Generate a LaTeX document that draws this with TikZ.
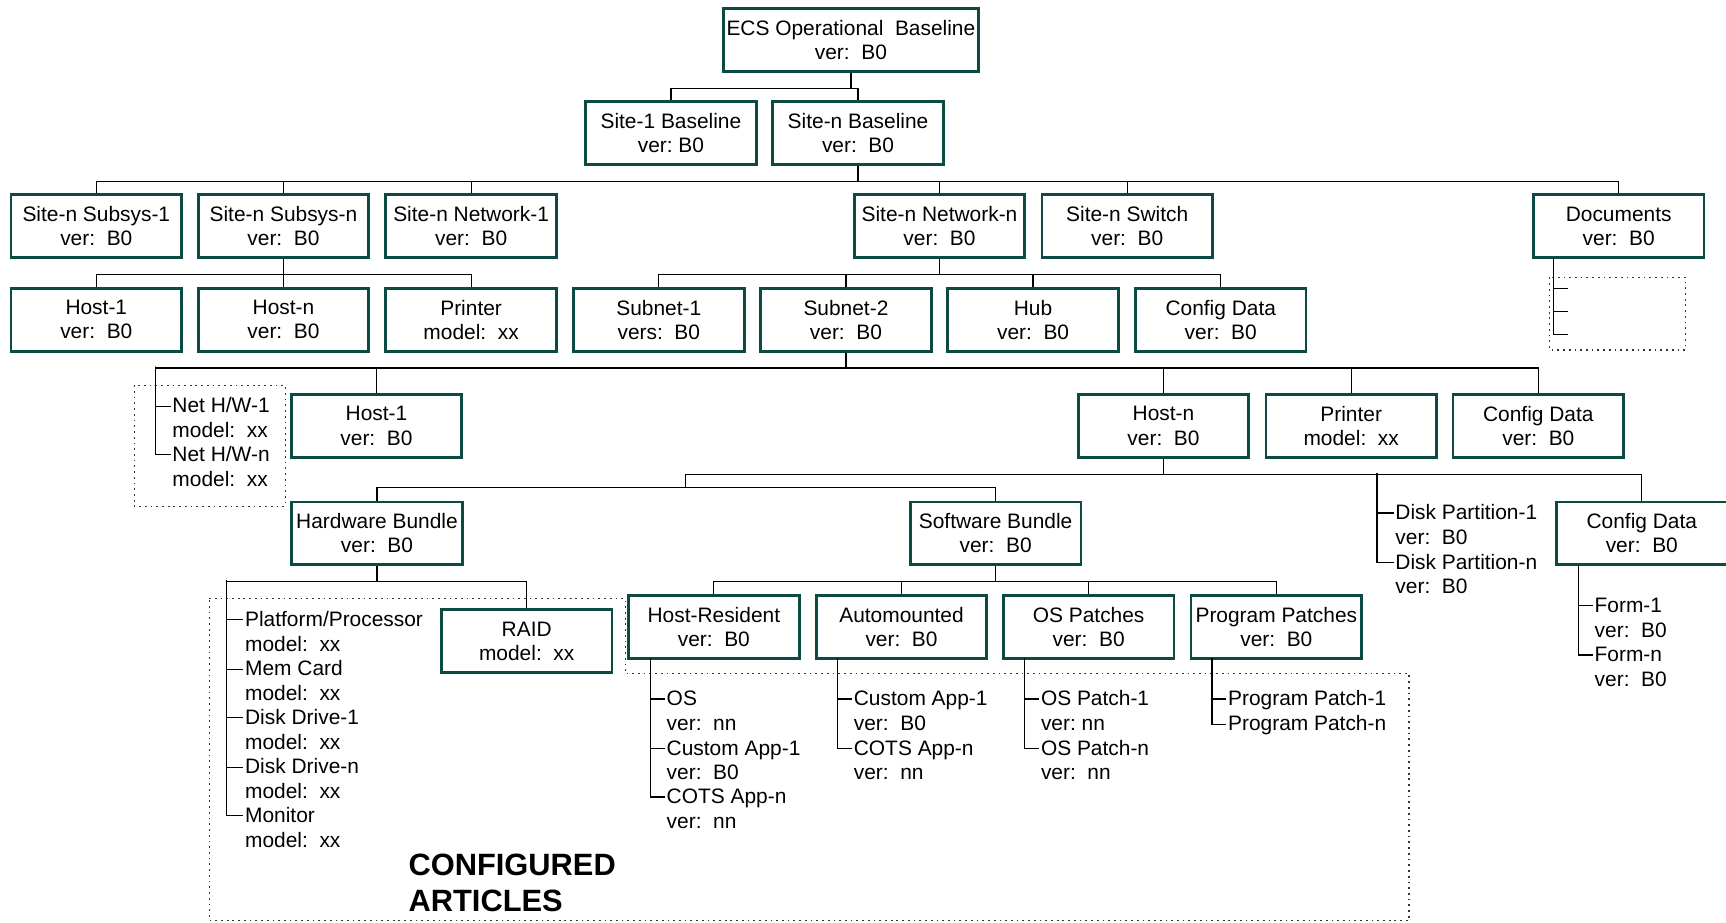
\documentclass[tikz,border=0pt]{standalone}
\usepackage{fontspec}
\setmainfont{Liberation Sans}
\definecolor{boxteal}{RGB}{12,74,68}
\frenchspacing
\begin{document}
\begin{tikzpicture}[x=1pt,y=-1pt,
  box/.style={draw=boxteal, line width=2.5pt, fill=white, minimum width=155pt,
    minimum height=57pt, inner sep=0pt, align=center,
    font=\fontsize{19}{22}\selectfont},
  link/.style={line width=1.1pt, draw=black},
  item/.style={anchor=west, inner sep=1.5pt, text height=14pt, text depth=2pt,
    font=\fontsize{19}{22}\selectfont},
  fence/.style={draw=black!80, line width=1pt, dash pattern=on 1.6pt off 3.6pt},
  bigword/.style={anchor=base west, inner sep=0pt, font=\bfseries\fontsize{28}{33}\selectfont}]
\useasboundingbox (0,0) rectangle (1568,838);

% dotted groupings
\draw[fence] (122,350) rectangle (259,460);
\draw[fence] (1408,252) rectangle (1531,318);
\draw[fence] (190,544) -- (568,544) -- (568,612) -- (1280,612) -- (1280,836) -- (190,836) -- cycle;

% top levels
\node[box, minimum width=232pt] (ecs) at (773,36.5) {ECS Operational\ \ Baseline\\ver:\ \ B0};
\node[box] (site1) at (609.5,121) {Site-1 Baseline\\ver: B0};
\node[box] (siten) at (779.5,121) {Site-n Baseline\\ver:\ \ B0};

% site-n components
\node[box] (ss1) at (87.5,205.5) {Site-n Subsys-1\\ver:\ \ B0};
\node[box] (ssn) at (257.5,205.5) {Site-n Subsys-n\\ver:\ \ B0};
\node[box] (net1) at (428,205.5) {Site-n Network-1\\ver:\ \ B0};
\node[box] (netn) at (853.5,205.5) {Site-n Network-n\\ver:\ \ B0};
\node[box] (switch) at (1024,205.5) {Site-n Switch\\ver:\ \ B0};
\node[box] (docs) at (1470.5,205.5) {Documents\\ver:\ \ B0};

% subsystem and network children
\node[box] (h1a) at (87.5,290.5) {Host-1\\ver:\ \ B0};
\node[box] (hna) at (257.5,290.5) {Host-n\\ver:\ \ B0};
\node[box] (pra) at (428,290.5) {Printer\\model:\ \ xx};
\node[box] (sub1) at (598.5,290.5) {Subnet-1\\vers:\ \ B0};
\node[box] (sub2) at (768.5,290.5) {Subnet-2\\ver:\ \ B0};
\node[box] (hub) at (938.5,290.5) {Hub\\ver:\ \ B0};
\node[box] (cfga) at (1109,290.5) {Config Data\\ver:\ \ B0};

% subnet children
\node[box] (h1b) at (342,387) {Host-1\\ver:\ \ B0};
\node[box] (hnb) at (1057,387) {Host-n\\ver:\ \ B0};
\node[box] (prb) at (1227.5,387) {Printer\\model:\ \ xx};
\node[box] (cfgb) at (1397.5,387) {Config Data\\ver:\ \ B0};

% host children
\node[box] (hwb) at (342.5,484.5) {Hardware Bundle\\ver:\ \ B0};
\node[box] (swb) at (904.5,484.5) {Software Bundle\\ver:\ \ B0};
\node[box] (cfgc) at (1491.5,484.5) {Config Data\\ver:\ \ B0};
\node[box] (raid) at (478.5,582.5) {RAID\\model:\ \ xx};

% software bundle children
\node[box] (hres) at (648.5,569.5) {Host-Resident\\ver:\ \ B0};
\node[box] (auto) at (819,569.5) {Automounted\\ver:\ \ B0};
\node[box] (ospat) at (989,569.5) {OS Patches\\ver:\ \ B0};
\node[box] (prpat) at (1159.5,569.5) {Program Patches\\ver:\ \ B0};

% list spines
\coordinate (docspine) at (1411,234);
\coordinate (nhwtop) at (141,333);
\coordinate (dpspine) at (1251,430);
\coordinate (bundlesplit) at (623,443);
\coordinate (hwspine) at (206,527);
\coordinate (formspine) at (1434,513);
\coordinate (hrspine) at (591,598);
\coordinate (amspine) at (761,598);
\coordinate (opspine) at (931,598);
\coordinate (ppspine) at (1101,598);
\coordinate (d1) at (1424,262);
\coordinate (d2) at (1424,283);
\coordinate (d3) at (1424,304);

% list items
\node[item] (nhw1) at (155,369) {Net H/W-1};
\node[item] (nhw1m) at (155,391) {model:\ \ xx};
\node[item] (nhwn) at (155,413) {Net H/W-n};
\node[item] (nhwnm) at (155,436) {model:\ \ xx};

\node[item] (pp) at (221,563) {Platform/Processor};
\node[item] (ppm) at (221,586) {model:\ \ xx};
\node[item] (mem) at (221,608) {Mem Card};
\node[item] (memm) at (221,630) {model:\ \ xx};
\node[item] (dd1) at (221,652) {Disk Drive-1};
\node[item] (dd1m) at (221,675) {model:\ \ xx};
\node[item] (ddn) at (221,697) {Disk Drive-n};
\node[item] (ddnm) at (221,719) {model:\ \ xx};
\node[item] (mon) at (221,741) {Monitor};
\node[item] (monm) at (221,764) {model:\ \ xx};

\node[item] (dp1) at (1266,466) {Disk Partition-1};
\node[item] (dp1v) at (1266,489) {ver:\ \ B0};
\node[item] (dpn) at (1266,511) {Disk Partition-n};
\node[item] (dpnv) at (1266,533) {ver:\ \ B0};

\node[item] (f1) at (1447,550) {Form-1};
\node[item] (f1v) at (1447,573) {ver:\ \ B0};
\node[item] (fn) at (1447,595) {Form-n};
\node[item] (fnv) at (1447,618) {ver:\ \ B0};

\node[item] (os) at (604,635) {OS};
\node[item] (osv) at (604,658) {ver:\ \ nn};
\node[item] (ca1) at (604,680) {Custom App-1};
\node[item] (ca1v) at (604,702) {ver:\ \ B0};
\node[item] (cots) at (604,724) {COTS App-n};
\node[item] (cotsv) at (604,747) {ver:\ \ nn};

\node[item] (aca) at (774,635) {Custom App-1};
\node[item] (acav) at (774,658) {ver:\ \ B0};
\node[item] (acots) at (774,680) {COTS App-n};
\node[item] (acotsv) at (774,702) {ver:\ \ nn};

\node[item] (op1) at (944,635) {OS Patch-1};
\node[item] (op1v) at (944,658) {ver: nn};
\node[item] (opn) at (944,680) {OS Patch-n};
\node[item] (opnv) at (944,702) {ver:\ \ nn};

\node[item] (pp1) at (1114,635) {Program Patch-1};
\node[item] (ppn) at (1114,658) {Program Patch-n};

\node[bigword] (cfgl1) at (371,795) {CONFIGURED};
\node[bigword] (cfgl2) at (371,828) {ARTICLES};

% tree connectors
\draw[link] (ecs.south) -- ++(0,14) -| (site1.north);
\draw[link] (ecs.south) -- ++(0,14) -| (siten.north);
\foreach \c in {ss1,ssn,net1,netn,switch,docs}
  \draw[link] (siten.south) -- ++(0,14) -| (\c.north);
\foreach \c in {h1a,hna,pra}
  \draw[link] (ssn.south) -- ++(0,14) -| (\c.north);
\foreach \c in {sub1,sub2,hub,cfga}
  \draw[link] (netn.south) -- ++(0,14) -| (\c.north);
\foreach \c in {h1b,hnb,prb,cfgb}
  \draw[link] (sub2.south) -- ++(0,14) -| (\c.north);
\draw[link] (sub2.south) -- ++(0,14) -| (nhwtop) |- (nhwn.west);
\draw[link] (nhwtop) |- (nhw1.west);
\draw[link] (hnb.south) -- ++(0,14) -| (cfgc.north);
\draw[link] (hnb.south) -- ++(0,14) -| (bundlesplit) -| (hwb.north);
\draw[link] (bundlesplit) -| (swb.north);
\draw[link] (dpspine) |- (dpn.west);
\draw[link] (dpspine) |- (dp1.west);
\draw[link] (hwb.south) -- ++(0,14) -| (raid.north);
\draw[link] (hwb.south) -- ++(0,14) -| (hwspine) |- (mon.west);
\foreach \c in {pp,mem,dd1,ddn}
  \draw[link] (hwspine) |- (\c.west);
\foreach \c in {hres,auto,ospat,prpat}
  \draw[link] (swb.south) -- ++(0,14) -| (\c.north);
\draw[link] (docspine) |- (d3);
\draw[link] (docspine) |- (d1);
\draw[link] (docspine) |- (d2);
\draw[link] (formspine) |- (fn.west);
\draw[link] (formspine) |- (f1.west);
\draw[link] (hrspine) |- (cots.west);
\draw[link] (hrspine) |- (os.west);
\draw[link] (hrspine) |- (ca1.west);
\draw[link] (amspine) |- (acots.west);
\draw[link] (amspine) |- (aca.west);
\draw[link] (opspine) |- (opn.west);
\draw[link] (opspine) |- (op1.west);
\draw[link] (ppspine) |- (ppn.west);
\draw[link] (ppspine) |- (pp1.west);
\end{tikzpicture}
\end{document}
